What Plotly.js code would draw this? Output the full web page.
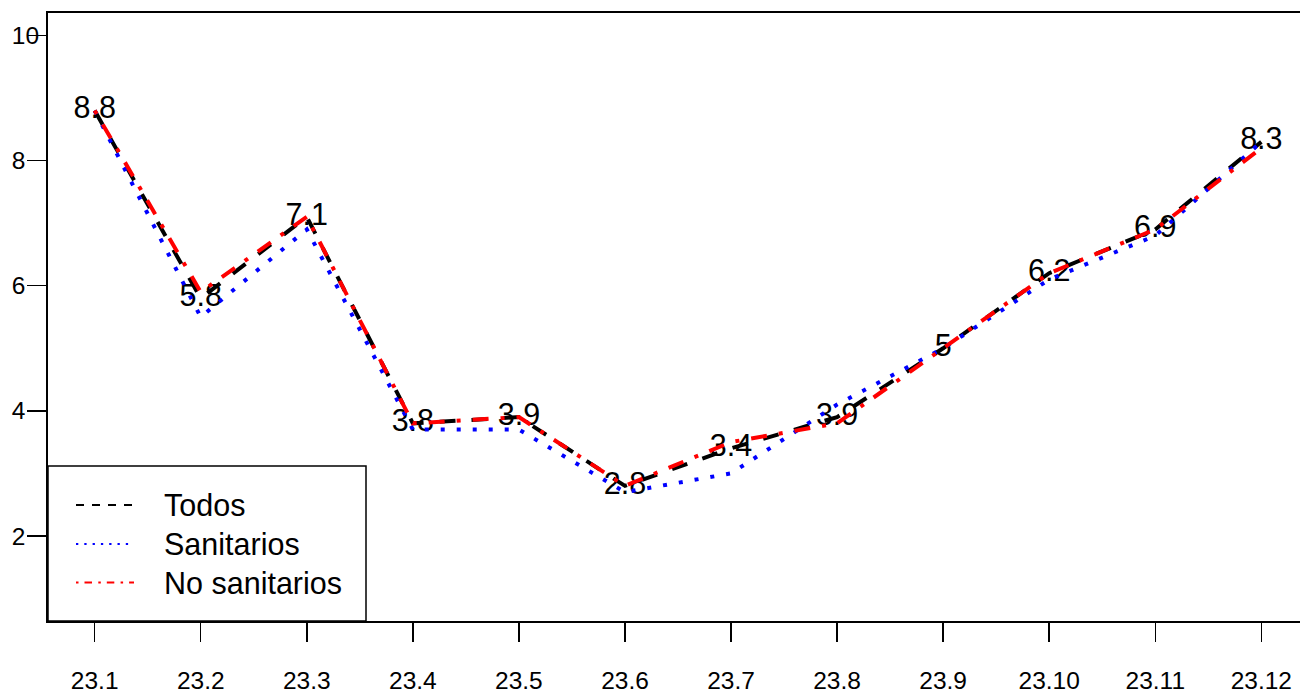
<!DOCTYPE html>
<html>
<head>
<meta charset="utf-8">
<script src="https://cdn.plot.ly/plotly-3.0.1.min.js"></script>
<style>
html, body { margin: 0; padding: 0; overflow: hidden; background: #ffffff; }
#chart { width: 1310px; height: 693px; }
</style>
</head>
<body>
<div id="chart"></div>
<script>
// ---- data ----
const months = ['23.1', '23.2', '23.3', '23.4', '23.5', '23.6', '23.7', '23.8', '23.9', '23.10', '23.11', '23.12'];
const todos = [8.8, 5.8, 7.1, 3.8, 3.9, 2.8, 3.4, 3.9, 5.0, 6.2, 6.9, 8.3];
const sanitarios = [8.8, 5.5, 6.9, 3.7, 3.7, 2.7, 3.0, 4.1, 5.0, 6.1, 6.8, 8.3];
const noSanitarios = [8.8, 5.9, 7.1, 3.8, 3.9, 2.8, 3.5, 3.8, 5.0, 6.2, 6.9, 8.2];
const yTickVals = [2, 4, 6, 8, 10];
const yTickLabels = ['2', '4', '6', '8', '10'];
const seriesNames = ['Todos', 'Sanitarios', 'No sanitarios'];

// ---- layout geometry ----
const W = 1310, H = 693;
const M = { l: 48, r: 2, t: 13, b: 72 };
const PW = W - M.l - M.r, PH = H - M.t - M.b;
const px2X = px => (px - M.l) / PW;
const px2Y = py => (H - M.b - py) / PH;

const FONT = 'Liberation Sans, Arial, Helvetica, sans-serif';
const TEXT_SIZE = 30.5;
const TICK_SIZE = 24.5;
const idx = months.map((m, i) => i + 1);

const styles = [
  { color: '#000000', dash: '16px,16px', legendDash: '8px,8px' },
  { color: '#0000ff', dash: '4px,12px', legendDash: '2.3px,6px' },
  { color: '#ff0000', dash: '4px,12px,16px,12px', legendDash: '2.5px,6px,7.5px,6.3px' }
];
const seriesData = [todos, sanitarios, noSanitarios];

// pad narrow labels so that they are left aligned like the reference
const yTickText = yTickLabels.map(s => s.length < 2 ? s + '\u00a0\u00a0' : s);

const traces = [];
traces.push({
  x: idx, y: todos, mode: 'text', type: 'scatter',
  text: todos.map(v => String(v)),
  textposition: 'middle center',
  textfont: { family: FONT, size: TEXT_SIZE, color: '#000000' },
  hoverinfo: 'skip', showlegend: false
});
seriesData.forEach((ys, k) => {
  traces.push({
    x: idx, y: ys, mode: 'lines', type: 'scatter', name: seriesNames[k],
    line: { color: styles[k].color, width: 4, dash: styles[k].dash },
    showlegend: false
  });
});

// manual legend (box, samples, labels)
const legRows = [505, 544, 582.5];
const shapes = [{
  type: 'rect', xref: 'paper', yref: 'paper',
  x0: 0, x1: px2X(366), y0: 0, y1: px2Y(466),
  line: { color: '#000000', width: 1.5 }, fillcolor: 'rgba(255,255,255,0)', layer: 'above'
}];
const annotations = [];
seriesNames.forEach((name, k) => {
  shapes.push({
    type: 'line', xref: 'paper', yref: 'paper',
    x0: px2X(76), x1: px2X(134), y0: px2Y(legRows[k]), y1: px2Y(legRows[k]),
    line: { color: styles[k].color, width: 2, dash: styles[k].legendDash }
  });
  annotations.push({
    xref: 'paper', yref: 'paper', x: px2X(162), y: px2Y(legRows[k]),
    xanchor: 'left', yanchor: 'middle', showarrow: false, text: name,
    font: { family: FONT, size: TEXT_SIZE, color: '#000000' }
  });
});

const layout = {
  width: W, height: H,
  margin: M,
  paper_bgcolor: '#ffffff', plot_bgcolor: '#ffffff',
  font: { family: FONT, color: '#000000' },
  showlegend: false,
  xaxis: {
    range: [0.56, 12.44], tickvals: idx, ticktext: months,
    ticks: 'outside', ticklen: 19, tickwidth: 1.5, tickcolor: '#000000',
    showline: true, linewidth: 2, linecolor: '#000000', mirror: true,
    showgrid: false, zeroline: false,
    tickfont: { family: FONT, size: TICK_SIZE, color: '#000000' },
    ticklabelstandoff: 18
  },
  yaxis: {
    range: [0.64, 10.36], tickvals: yTickVals, ticktext: yTickText,
    ticks: 'outside', ticklen: 19, tickwidth: 1.5, tickcolor: '#000000',
    showline: true, linewidth: 2, linecolor: '#000000', mirror: true,
    showgrid: false, zeroline: false,
    tickfont: { family: FONT, size: TICK_SIZE, color: '#000000' },
    ticklabelstandoff: -17
  },
  shapes: shapes,
  annotations: annotations
};

Plotly.newPlot('chart', traces, layout, { staticPlot: true, displayModeBar: false });
</script>
</body>
</html>
